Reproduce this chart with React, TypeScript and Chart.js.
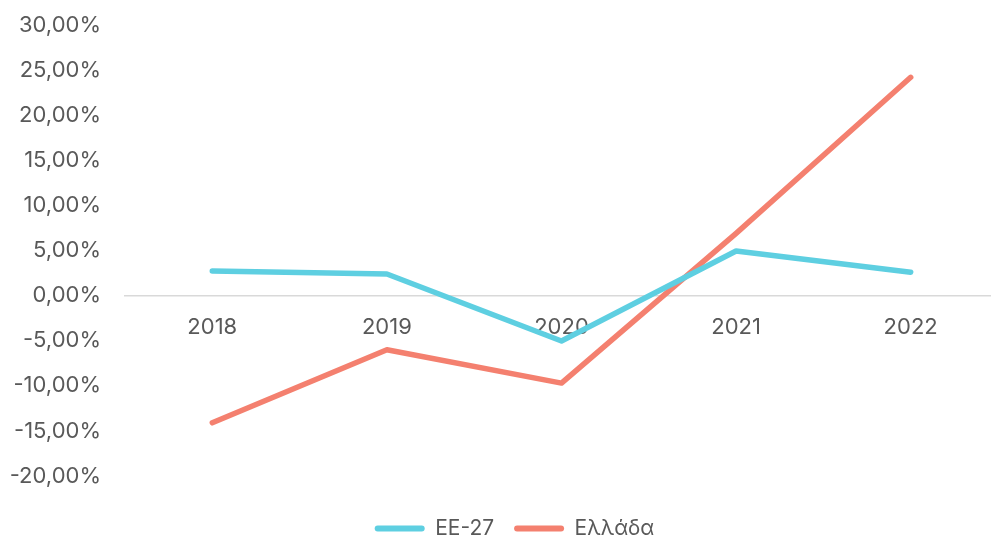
import React, { useEffect, useRef } from "react";
import { Chart, registerables } from "chart.js";

Chart.register(...registerables);

const categories = ["2018", "2019", "2020", "2021", "2022"];
const seriesEU = [2.73, 2.4, -5.03, 4.94, 2.6];
const seriesGR = [-14.1, -6.0, -9.7, 6.9, 24.2];
const seriesNames = ["EE-27", "Ελλάδα"];
const yTicks = { min: -20, max: 30, step: 5 };

const FONT = "Inter";
const TEXT = "#595959";

const legendShift = {
  id: "legendShift",
  afterLayout(chart: any) {
    const lg = chart.legend;
    if (lg) {
      lg.left += 19;
      lg.right += 19;
    }
  },
};

export default function App() {
  const ref = useRef<HTMLCanvasElement>(null);
  useEffect(() => {
    if (!ref.current) return;
    const chart = new Chart(ref.current, {
      type: "line",
      plugins: [legendShift],
      data: {
        datasets: [
          {
            label: seriesNames[0],
            data: seriesEU.map((v, i) => ({ x: i, y: v })),
            borderColor: "#5ECFE1",
            backgroundColor: "#5ECFE1",
            borderWidth: 5.5,
            borderCapStyle: "round",
            borderJoinStyle: "round",
            pointRadius: 0,
            tension: 0,
          },
          {
            label: seriesNames[1],
            data: seriesGR.map((v, i) => ({ x: i, y: v })),
            borderColor: "#F4806F",
            backgroundColor: "#F4806F",
            borderWidth: 5.5,
            borderCapStyle: "round",
            borderJoinStyle: "round",
            pointRadius: 0,
            tension: 0,
          },
        ],
      },
      options: {
        animation: false,
        responsive: true,
        maintainAspectRatio: false,
        layout: { padding: { top: 25, left: 0, right: 0, bottom: -13 } },
        scales: {
          x: {
            type: "linear",
            position: { y: 0 },
            min: -0.5,
            max: 4.46,
            grid: { display: false, drawTicks: false },
            border: { display: true, color: "#D9D9D9", width: 1.5 },
            ticks: {
              stepSize: 1,
              includeBounds: false,
              padding: 19,
              color: TEXT,
              font: { family: FONT, size: 22 },
              callback: (v: any) => {
                const i = Number(v);
                return Number.isInteger(i) && categories[i] ? categories[i] : "";
              },
            },
          },
          spacer: {
            type: "linear",
            position: "bottom",
            display: true,
            grid: { display: false, drawTicks: false },
            border: { display: false },
            ticks: { display: false },
            afterFit: (s: any) => {
              s.height = 22;
            },
          },
          y: {
            min: yTicks.min,
            max: yTicks.max,
            grid: { display: false, drawTicks: true, tickLength: 24 },
            border: { display: false },
            afterFit: (s: any) => {
              s.width = 125;
            },
            ticks: {
              stepSize: yTicks.step,
              padding: 0,
              color: TEXT,
              font: { family: FONT, size: 22 },
              callback: (v: any) =>
                Number(v).toFixed(2).replace(".", ",") + "%",
            },
          },
        },
        plugins: {
          tooltip: { enabled: false },
          legend: {
            position: "bottom",
            labels: {
              boxWidth: 50,
              boxHeight: 6,
              useBorderRadius: true,
              borderRadius: 3,
              padding: 20,
              color: TEXT,
              font: { family: FONT, size: 21 },
              generateLabels: (c: any) =>
                Chart.defaults.plugins.legend.labels
                  .generateLabels(c)
                  .map((it: any) => ({ ...it, lineWidth: 0 })),
            },
          },
        },
      },
    });
    return () => chart.destroy();
  }, []);
  return (
    <div style={{ position: "absolute", left: 0, top: 0, width: 991, height: 536, background: "#fff" }}>
      <canvas ref={ref} />
    </div>
  );
}
